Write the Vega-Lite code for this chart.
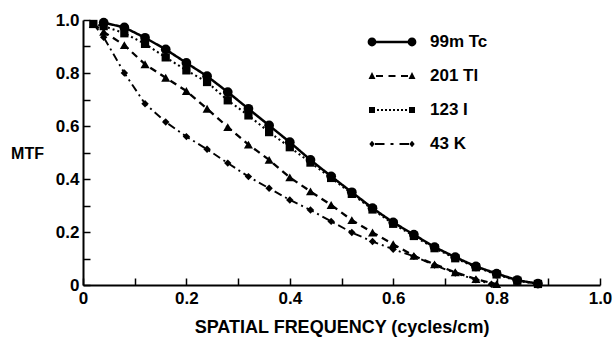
{
  "$schema": "https://vega.github.io/schema/vega-lite/v6.json",
  "autosize": {"type": "none"},
  "width": 517,
  "height": 265,
  "padding": {"left": 83, "top": 20, "right": 13, "bottom": 54},
  "background": "white",
  "config": {
    "view": {"stroke": null},
    "font": "Liberation Sans",
    "axis": {
      "grid": false,
      "domainColor": "black",
      "domainWidth": 2,
      "tickColor": "black",
      "tickWidth": 1.5,
      "tickSize": -7,
      "labelFont": "Liberation Sans",
      "labelFontWeight": "bold",
      "labelFontSize": 17,
      "labelColor": "black",
      "titleFont": "Liberation Sans",
      "titleFontWeight": "bold",
      "titleColor": "black"
    },
    "legend": {
      "orient": "none",
      "legendX": 299,
      "legendY": 12,
      "symbolSize": 400,
      "symbolStrokeWidth": 0,
      "symbolFillColor": "black",
      "symbolOpacity": 1,
      "rowPadding": 16,
      "labelFont": "Liberation Sans",
      "labelFontWeight": "bold",
      "labelFontSize": 17,
      "labelColor": "black",
      "labelOffset": 28
    }
  },
  "resolve": {"scale": {"shape": "independent", "size": "independent"}},
  "data": {
    "values": [
      {"iso": "99m Tc", "f": 0.04, "mtf": 0.99},
      {"iso": "99m Tc", "f": 0.08, "mtf": 0.972},
      {"iso": "99m Tc", "f": 0.12, "mtf": 0.933},
      {"iso": "99m Tc", "f": 0.16, "mtf": 0.889},
      {"iso": "99m Tc", "f": 0.20, "mtf": 0.838},
      {"iso": "99m Tc", "f": 0.24, "mtf": 0.788},
      {"iso": "99m Tc", "f": 0.28, "mtf": 0.728},
      {"iso": "99m Tc", "f": 0.32, "mtf": 0.665},
      {"iso": "99m Tc", "f": 0.36, "mtf": 0.602},
      {"iso": "99m Tc", "f": 0.40, "mtf": 0.539},
      {"iso": "99m Tc", "f": 0.44, "mtf": 0.472},
      {"iso": "99m Tc", "f": 0.48, "mtf": 0.41},
      {"iso": "99m Tc", "f": 0.52, "mtf": 0.35},
      {"iso": "99m Tc", "f": 0.56, "mtf": 0.29},
      {"iso": "99m Tc", "f": 0.60, "mtf": 0.236},
      {"iso": "99m Tc", "f": 0.64, "mtf": 0.19},
      {"iso": "99m Tc", "f": 0.68, "mtf": 0.143},
      {"iso": "99m Tc", "f": 0.72, "mtf": 0.105},
      {"iso": "99m Tc", "f": 0.76, "mtf": 0.07},
      {"iso": "99m Tc", "f": 0.80, "mtf": 0.043},
      {"iso": "99m Tc", "f": 0.84, "mtf": 0.018},
      {"iso": "99m Tc", "f": 0.88, "mtf": 0.005},

      {"iso": "201 Tl", "f": 0.02, "mtf": 0.985},
      {"iso": "201 Tl", "f": 0.04, "mtf": 0.955},
      {"iso": "201 Tl", "f": 0.08, "mtf": 0.905},
      {"iso": "201 Tl", "f": 0.12, "mtf": 0.833},
      {"iso": "201 Tl", "f": 0.16, "mtf": 0.782},
      {"iso": "201 Tl", "f": 0.20, "mtf": 0.732},
      {"iso": "201 Tl", "f": 0.24, "mtf": 0.665},
      {"iso": "201 Tl", "f": 0.28, "mtf": 0.596},
      {"iso": "201 Tl", "f": 0.32, "mtf": 0.53},
      {"iso": "201 Tl", "f": 0.36, "mtf": 0.472},
      {"iso": "201 Tl", "f": 0.40, "mtf": 0.406},
      {"iso": "201 Tl", "f": 0.44, "mtf": 0.353},
      {"iso": "201 Tl", "f": 0.48, "mtf": 0.302},
      {"iso": "201 Tl", "f": 0.52, "mtf": 0.245},
      {"iso": "201 Tl", "f": 0.56, "mtf": 0.198},
      {"iso": "201 Tl", "f": 0.60, "mtf": 0.154},
      {"iso": "201 Tl", "f": 0.64, "mtf": 0.11},
      {"iso": "201 Tl", "f": 0.68, "mtf": 0.078},
      {"iso": "201 Tl", "f": 0.72, "mtf": 0.048},
      {"iso": "201 Tl", "f": 0.76, "mtf": 0.022},
      {"iso": "201 Tl", "f": 0.80, "mtf": 0.003},

      {"iso": "123 I", "f": 0.02, "mtf": 0.985},
      {"iso": "123 I", "f": 0.04, "mtf": 0.977},
      {"iso": "123 I", "f": 0.08, "mtf": 0.95},
      {"iso": "123 I", "f": 0.12, "mtf": 0.91},
      {"iso": "123 I", "f": 0.16, "mtf": 0.859},
      {"iso": "123 I", "f": 0.20, "mtf": 0.81},
      {"iso": "123 I", "f": 0.24, "mtf": 0.766},
      {"iso": "123 I", "f": 0.28, "mtf": 0.697},
      {"iso": "123 I", "f": 0.32, "mtf": 0.64},
      {"iso": "123 I", "f": 0.36, "mtf": 0.577},
      {"iso": "123 I", "f": 0.40, "mtf": 0.52},
      {"iso": "123 I", "f": 0.44, "mtf": 0.462},
      {"iso": "123 I", "f": 0.48, "mtf": 0.404},
      {"iso": "123 I", "f": 0.52, "mtf": 0.344},
      {"iso": "123 I", "f": 0.56, "mtf": 0.285},
      {"iso": "123 I", "f": 0.60, "mtf": 0.231},
      {"iso": "123 I", "f": 0.64, "mtf": 0.185},
      {"iso": "123 I", "f": 0.68, "mtf": 0.139},
      {"iso": "123 I", "f": 0.72, "mtf": 0.101},
      {"iso": "123 I", "f": 0.76, "mtf": 0.067},
      {"iso": "123 I", "f": 0.80, "mtf": 0.04},
      {"iso": "123 I", "f": 0.84, "mtf": 0.016},
      {"iso": "123 I", "f": 0.88, "mtf": 0.004},

      {"iso": "43 K", "f": 0.02, "mtf": 0.985},
      {"iso": "43 K", "f": 0.04, "mtf": 0.935},
      {"iso": "43 K", "f": 0.08, "mtf": 0.80},
      {"iso": "43 K", "f": 0.12, "mtf": 0.684},
      {"iso": "43 K", "f": 0.16, "mtf": 0.615},
      {"iso": "43 K", "f": 0.20, "mtf": 0.56},
      {"iso": "43 K", "f": 0.24, "mtf": 0.512},
      {"iso": "43 K", "f": 0.28, "mtf": 0.46},
      {"iso": "43 K", "f": 0.32, "mtf": 0.409},
      {"iso": "43 K", "f": 0.36, "mtf": 0.365},
      {"iso": "43 K", "f": 0.40, "mtf": 0.321},
      {"iso": "43 K", "f": 0.44, "mtf": 0.283},
      {"iso": "43 K", "f": 0.48, "mtf": 0.24},
      {"iso": "43 K", "f": 0.52, "mtf": 0.198},
      {"iso": "43 K", "f": 0.56, "mtf": 0.164},
      {"iso": "43 K", "f": 0.60, "mtf": 0.135},
      {"iso": "43 K", "f": 0.64, "mtf": 0.108},
      {"iso": "43 K", "f": 0.68, "mtf": 0.075},
      {"iso": "43 K", "f": 0.72, "mtf": 0.045},
      {"iso": "43 K", "f": 0.76, "mtf": 0.02},
      {"iso": "43 K", "f": 0.79, "mtf": 0.003}
    ]
  },
  "encoding": {
    "x": {
      "field": "f",
      "type": "quantitative",
      "scale": {"domain": [0, 1], "nice": false},
      "axis": {
        "values": [0, 0.1, 0.2, 0.3, 0.4, 0.5, 0.6, 0.7, 0.8, 0.9, 1.0],
        "labelExpr": "round(datum.value*10) % 2 == 0 ? (datum.value == 0 ? '0' : format(datum.value, '.1f')) : ''",
        "labelPadding": 12,
        "labelFlush": false,
        "labelOverlap": false,
        "title": "SPATIAL FREQUENCY (cycles/cm)",
        "titleFontSize": 18,
        "titlePadding": 12
      }
    },
    "y": {
      "field": "mtf",
      "type": "quantitative",
      "scale": {"domain": [0, 1], "nice": false},
      "axis": {
        "values": [0, 0.1, 0.2, 0.3, 0.4, 0.5, 0.6, 0.7, 0.8, 0.9, 1.0],
        "labelExpr": "round(datum.value*10) % 2 == 0 ? (datum.value == 0 ? '0' : format(datum.value, '.1f')) : ''",
        "labelPadding": 11,
        "labelFlush": false,
        "labelOverlap": false,
        "title": "MTF",
        "titleFontSize": 16,
        "titleAngle": 0,
        "titleAlign": "center",
        "titleBaseline": "middle",
        "titleX": -56,
        "titleY": 133
      }
    }
  },
  "layer": [
    {
      "mark": {"type": "line", "color": "black"},
      "encoding": {
        "detail": {"field": "iso"},
        "strokeDash": {
          "field": "iso",
          "type": "nominal",
          "scale": {
            "domain": ["99m Tc", "201 Tl", "123 I", "43 K"],
            "range": [[1, 0], [7, 5], [2, 3], [8, 4, 2, 4]]
          },
          "legend": null
        },
        "strokeWidth": {
          "field": "iso",
          "type": "nominal",
          "scale": {
            "domain": ["99m Tc", "201 Tl", "123 I", "43 K"],
            "range": [2.5, 1.9, 1.9, 1.9]
          },
          "legend": null
        }
      }
    },
    {
      "mark": {"type": "point", "filled": true, "color": "black", "opacity": 1},
      "encoding": {
        "shape": {
          "field": "iso",
          "type": "nominal",
          "scale": {
            "domain": ["99m Tc", "201 Tl", "123 I", "43 K"],
            "range": ["circle", "triangle-up", "square", "diamond"]
          },
          "legend": null
        },
        "size": {
          "field": "iso",
          "type": "nominal",
          "scale": {
            "domain": ["99m Tc", "201 Tl", "123 I", "43 K"],
            "range": [95, 55, 65, 65]
          },
          "legend": null
        }
      }
    },
    {
      "mark": {"type": "point", "filled": true, "fill": "black", "size": 400, "opacity": 0},
      "encoding": {
        "shape": {
          "field": "iso",
          "type": "nominal",
          "scale": {
            "domain": ["99m Tc", "201 Tl", "123 I", "43 K"],
            "range": [
              "M-2,-0.12L2,-0.12L2,0.12L-2,0.12ZM-2.44,0A0.44,0.44,0,1,1,-1.56,0A0.44,0.44,0,1,1,-2.44,0ZM1.56,0A0.44,0.44,0,1,1,2.44,0A0.44,0.44,0,1,1,1.56,0Z",
              "M-1.6,-0.09L-0.9,-0.09L-0.9,0.09L-1.6,0.09ZM-0.35,-0.09L0.35,-0.09L0.35,0.09L-0.35,0.09ZM0.9,-0.09L1.6,-0.09L1.6,0.09L0.9,0.09ZM-2,-0.4L-1.65,0.3L-2.35,0.3ZM2,-0.4L2.35,0.3L1.65,0.3Z",
              "M-1.5,-0.09L-1.3,-0.09L-1.3,0.09L-1.5,0.09ZM-1.1,-0.09L-0.9,-0.09L-0.9,0.09L-1.1,0.09ZM-0.7,-0.09L-0.5,-0.09L-0.5,0.09L-0.7,0.09ZM-0.3,-0.09L-0.1,-0.09L-0.1,0.09L-0.3,0.09ZM0.1,-0.09L0.3,-0.09L0.3,0.09L0.1,0.09ZM0.5,-0.09L0.7,-0.09L0.7,0.09L0.5,0.09ZM0.9,-0.09L1.1,-0.09L1.1,0.09L0.9,0.09ZM1.3,-0.09L1.5,-0.09L1.5,0.09L1.3,0.09ZM-2.3,-0.3L-1.7,-0.3L-1.7,0.3L-2.3,0.3ZM1.7,-0.3L2.3,-0.3L2.3,0.3L1.7,0.3Z",
              "M-1.7,-0.09L-0.75,-0.09L-0.75,0.09L-1.7,0.09ZM-0.15,-0.09L0.15,-0.09L0.15,0.09L-0.15,0.09ZM0.75,-0.09L1.7,-0.09L1.7,0.09L0.75,0.09ZM-2,-0.32L-1.73,0L-2,0.32L-2.27,0ZM2,-0.32L2.27,0L2,0.32L1.73,0Z"
            ]
          },
          "legend": {"title": null}
        }
      }
    }
  ]
}
